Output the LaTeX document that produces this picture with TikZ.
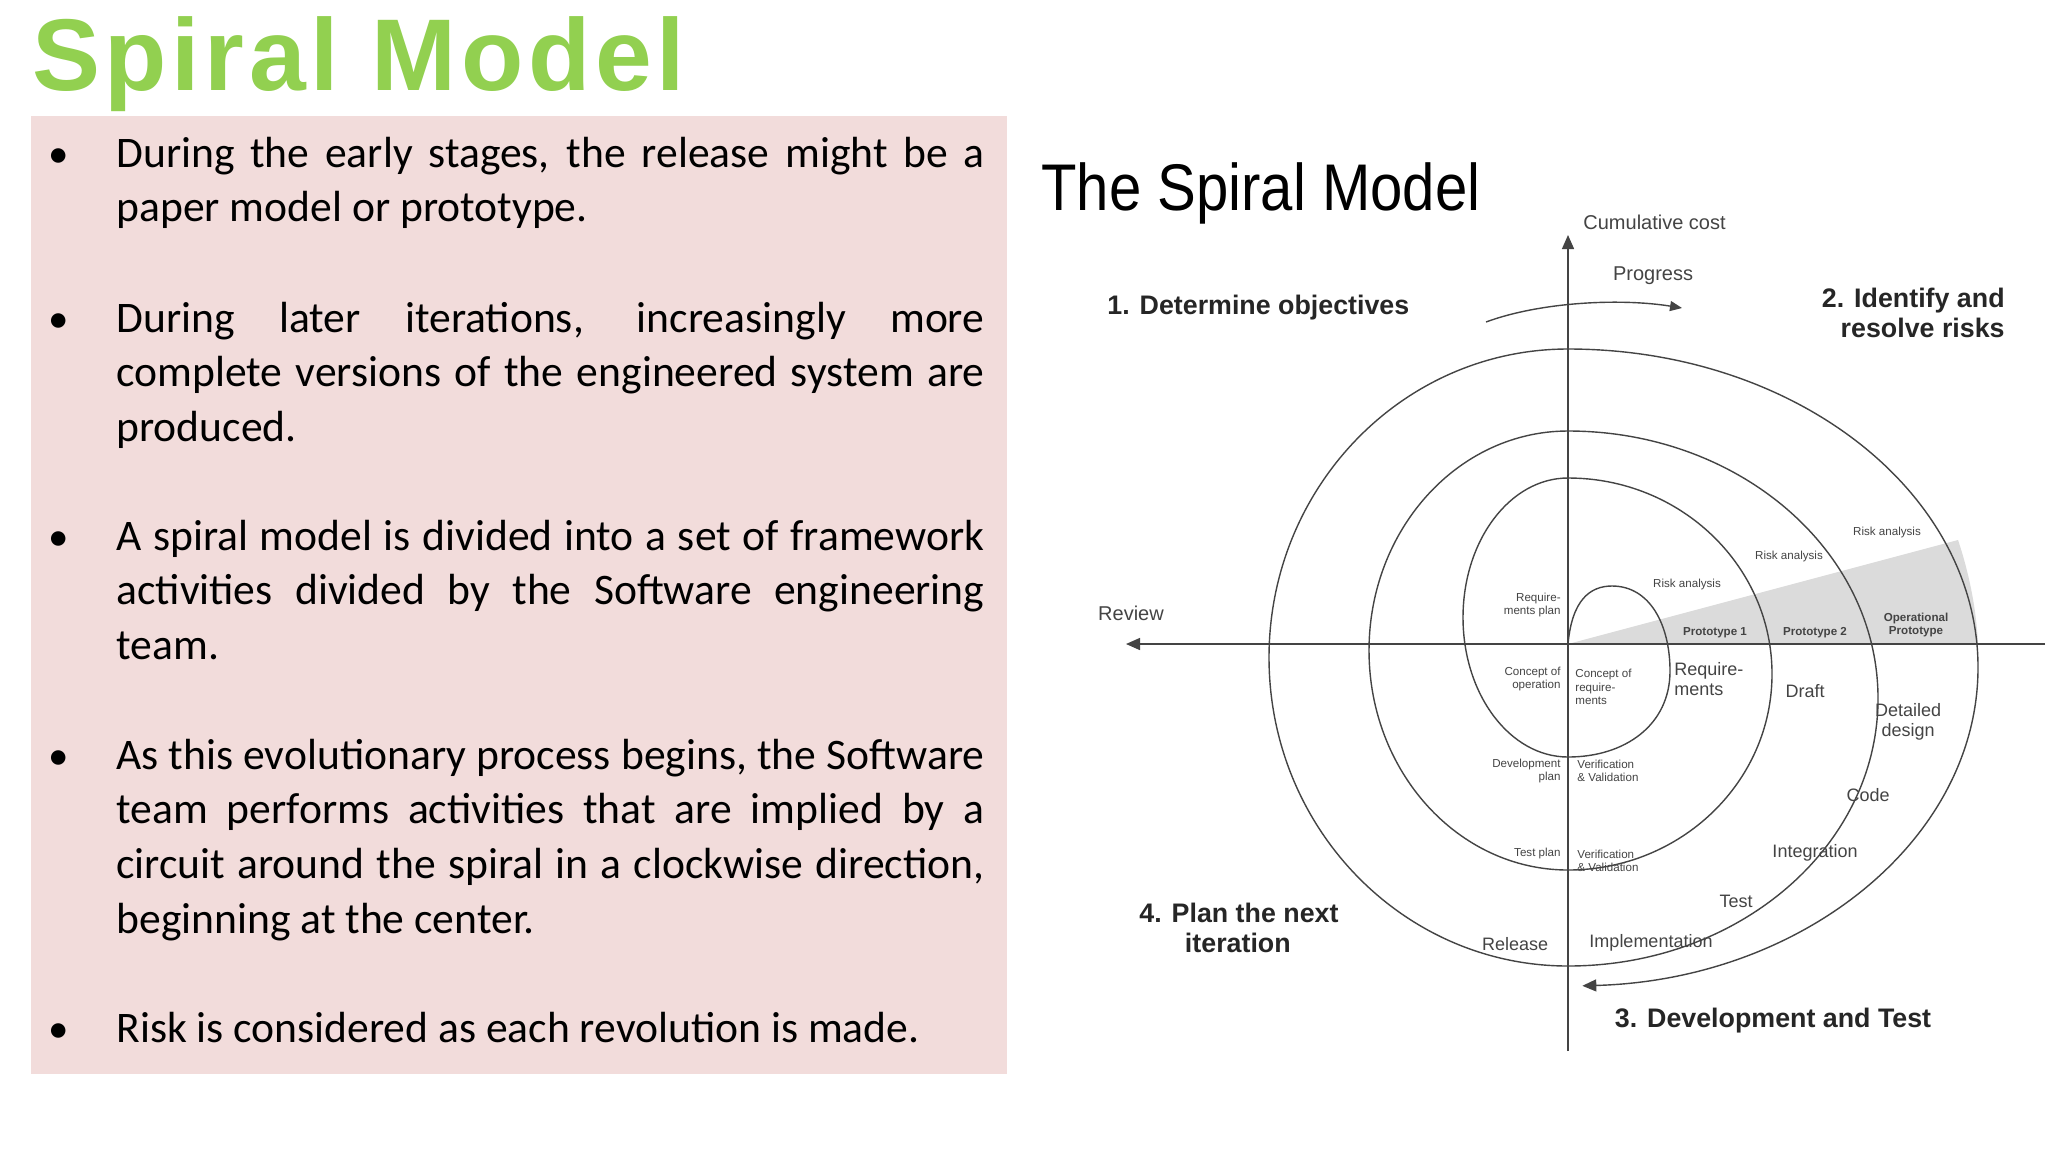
\documentclass[tikz,border=0pt]{standalone}
\usepackage{fontspec}
\setmainfont{Carlito}
\newfontfamily\arialf{Liberation Sans}
\newfontfamily\titlef[LetterSpace=4.5]{Liberation Sans}
\usetikzlibrary{arrows.meta}
\definecolor{titlegreen}{HTML}{92D050}
\definecolor{boxpink}{HTML}{F2DCDB}
\definecolor{ink}{HTML}{444444}
\tikzset{
  bul/.style={anchor=base west,text width=434pt,align=justify,inner sep=0pt,font=\fontsize{21.8}{27.4}\selectfont,execute at begin node={\hyphenpenalty=10000\exhyphenpenalty=10000\relax}},
  dot/.style={anchor=base,inner sep=0pt,font=\fontsize{20.5}{27.4}\selectfont},
  lab/.style={inner sep=0pt,text=ink,font=\arialf\fontsize{10}{11}\selectfont},
  mid/.style={inner sep=0pt,text=ink,font=\arialf\fontsize{9}{10}\selectfont},
  tiny/.style={inner sep=0pt,text=ink,font=\arialf\fontsize{5.8}{6.6}\selectfont},
  tinyb/.style={tiny,font=\arialf\bfseries\fontsize{5.8}{6.6}\selectfont},
  head/.style={inner sep=0pt,text=black!85,font=\arialf\bfseries\fontsize{13.4}{15}\selectfont},
  ln/.style={draw=ink,line width=0.7pt},
}
\begin{document}
\begin{tikzpicture}[x=0.5pt,y=-0.5pt]
\useasboundingbox (0,0) rectangle (2048,1152);
\fill[white] (0,0) rectangle (2048,1152);
\node[anchor=west,inner sep=0pt,text=titlegreen,font=\titlef\bfseries\fontsize{51}{54}\selectfont] (title) at (32,64) {Spiral Model};
\fill[boxpink] (31,116) rectangle (1007,1074);
\node[bul] (b1) at (116,167) {During the early stages, the release might be a paper model or prototype.};
\node[bul] (b2) at (116,332) {During later iterations, increasingly more complete versions of the engineered system are produced.};
\node[bul] (b3) at (116,550) {A spiral model is divided into a set of framework activities divided by the Software engineering team.};
\node[bul] (b4) at (116,769) {As this evolutionary process begins, the Software team performs activities that are implied by a circuit around the spiral in a clockwise direction, beginning at the center.};
\node[bul] (b5) at (116,1042) {Risk is considered as each revolution is made.};
\foreach \y/\n in {167/d1,332/d2,550/d3,769/d4,1042/d5} \node[dot] (\n) at (59,\y) {•};
% diagram
\node[anchor=west,inner sep=0pt,font=\arialf\fontsize{33}{36}\selectfont] (st) at (1041,193) {\scalebox{0.88}[1]{The Spiral Model}};
\fill[gray!28] (1568,644) -- (1958,540) .. controls (1968,570) and (1976,605) .. (1978,644) -- cycle;
\coordinate (vb) at (1568,1051); \coordinate (vt) at (1568,235);
\coordinate (hr) at (2045,644); \coordinate (hl) at (1126,644);
\draw[ln,-{Triangle[length=7pt,width=6pt]}] (vb) -- (vt);
\draw[ln,-{Triangle[length=7pt,width=6pt]}] (hr) -- (hl);
% spiral
\coordinate (s0) at (1568,644);
\draw[ln] (s0) .. controls (1572,600) and (1590,586) .. (1612,586)
  .. controls (1650,586) and (1670,625) .. (1670,671)
  .. controls (1670,725) and (1625,757) .. (1568,757);
\draw[ln] (1568,757) arc[start angle=90,end angle=270,x radius=105,y radius=139.5];
\draw[ln] (1568,478) arc[start angle=-90,end angle=90,x radius=204,y radius=196];
\draw[ln] (1568,870) arc[start angle=90,end angle=270,x radius=199,y radius=219.5];
\draw[ln] (1568,431) arc[start angle=-90,end angle=90,x radius=310,y radius=267.5];
\draw[ln] (1568,966) arc[start angle=90,end angle=270,x radius=299,y radius=308.5];
\coordinate (sp) at (1568,349);
\draw[ln,-{Triangle[length=7pt,width=6pt]}] (sp) arc[start angle=-90,end angle=88,x radius=410,y radius=318.5];
% progress arrow
\coordinate (pa) at (1486,322); \coordinate (pb) at (1682,308);
\draw[ln,-{Triangle[length=6pt,width=5pt]}] (pa) .. controls (1540,302) and (1620,298) .. (pb);
\node[lab,anchor=west] (cc) at (1583,222) {Cumulative cost};
\node[lab] (pr) at (1653,276) {Progress};
\node[head,anchor=west] (h1) at (1107,308) {1. Determine objectives};
\node[head,anchor=east,align=right] (h2) at (2005,313) {2. Identify and\\resolve risks};
\node[lab] (rv) at (1131,613) {Review};
\node[tiny] (r1) at (1687,584) {Risk analysis};
\node[tiny] (r2) at (1789,556) {Risk analysis};
\node[tiny] (r3) at (1887,532) {Risk analysis};
\node[tiny,anchor=east,align=right] (rp) at (1561,605) {Require-\\ments plan};
\node[tinyb] (p1) at (1715,633) {Prototype 1};
\node[tinyb] (p2) at (1815,633) {Prototype 2};
\node[tinyb,align=center] (op) at (1916,625) {Operational\\Prototype};
\node[tiny,anchor=east,align=right] (co) at (1561,679) {Concept of\\operation};
\node[tiny,anchor=west,align=left] (cr) at (1575,687) {Concept of\\require-\\ments};
\node[mid,anchor=west,align=left] (rq) at (1674,679) {Require-\\ments};
\node[mid] (dr) at (1805,691) {Draft};
\node[mid,align=center] (dd) at (1908,722) {Detailed\\design};
\node[tiny,anchor=east,align=right] (dp) at (1561,771) {Development\\plan};
\node[tiny,anchor=west,align=left] (vv1) at (1577,771) {Verification\\\& Validation};
\node[mid] (cd) at (1868,795) {Code};
\node[tiny,anchor=east] (tp) at (1561,853) {Test plan};
\node[tiny,anchor=west,align=left] (vv2) at (1577,861) {Verification\\\& Validation};
\node[mid] (ig) at (1815,853) {Integration};
\node[mid] (ts) at (1736,901) {Test};
\node[head,anchor=west,align=left] (h4) at (1139,928) {4. Plan the next\\\hspace*{1.7em}iteration};
\node[mid] (rl) at (1515,944) {Release};
\node[mid] (im) at (1651,943) {Implementation};
\node[head] (h3) at (1773,1021) {3. Development and Test};
\end{tikzpicture}
\end{document}
